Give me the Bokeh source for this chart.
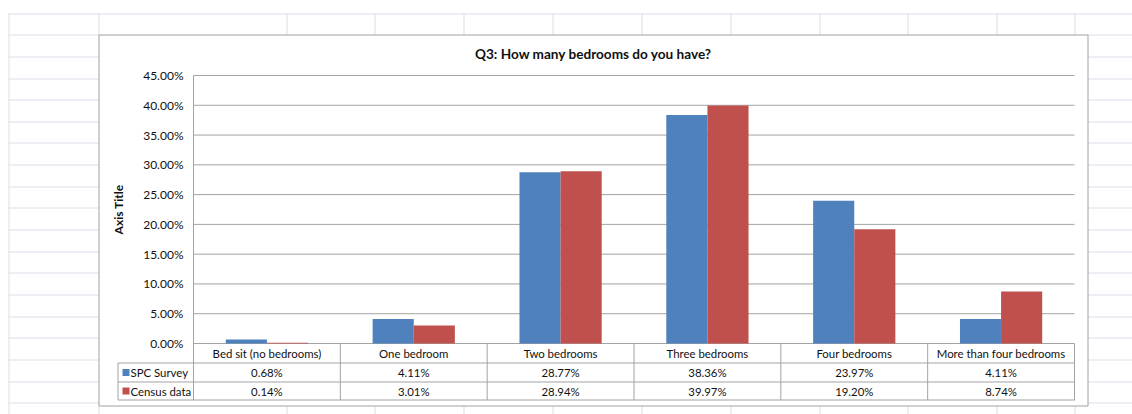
from bokeh.plotting import figure
from bokeh.models import (Range1d, FixedTicker, PrintfTickFormatter, LinearAxis)
from bokeh.core.properties import value
from bokeh.embed import file_html
from bokeh.resources import INLINE

# ---------------- data ----------------
categories = ["Bed sit (no bedrooms)", "One bedroom", "Two bedrooms",
              "Three bedrooms", "Four bedrooms", "More than four bedrooms"]
series_names = ["SPC Survey", "Census data"]
spc_survey = [0.68, 4.11, 28.77, 38.36, 23.97, 4.11]
census_data = [0.14, 3.01, 28.94, 39.97, 19.20, 8.74]
y_ticks = [0, 5, 10, 15, 20, 25, 30, 35, 40, 45]
title_text = "Q3: How many bedrooms do you have?"
y_axis_title = "Axis Title"

# ---------------- style ----------------
BLUE = "#4F81BD"
RED = "#C0504D"
GRID = "#a3a3a3"
BORDER = "#a0a0a0"
SHEET = "#dcdde8"
TEXT = "#111111"
FONT = "Lato"

W, H = 1132, 414
FL, FR, FT, FB = 193, 1074, 75, 343   # plot area edges in page pixels
YMAX = 45.0
n = len(categories)

# data ranges chosen so that the plot area lands on FL..FR x FT..FB
xu = (FR - FL) / n
yu = (FB - FT) / YMAX
x_range = Range1d(-FL / xu, n + (W - FR) / xu)
y_range = Range1d(-(H - FB) / yu, YMAX + FT / yu)

idx = [i + 0.5 for i in range(n)]
spc_txt = [f"{v:.2f}%" for v in spc_survey]
cen_txt = [f"{v:.2f}%" for v in census_data]

p = figure(width=W, height=H, output_backend="svg", toolbar_location=None,
           title=None, x_axis_location=None, y_axis_location=None,
           x_range=x_range, y_range=y_range, min_border=0)
p.outline_line_color = None
p.background_fill_color = "white"
p.border_fill_color = "white"
p.xgrid.visible = False
p.ygrid.visible = False
# page-pixel ranges for the surrounding decoration (y measured from the top)
p.extra_x_ranges = {"px": Range1d(0, W)}
p.extra_y_ranges = {"px": Range1d(H, 0)}


def seg(x0, y0, x1, y1, color, xr="px", yr="px", width=1):
    p.segment(x0=x0, y0=y0, x1=x1, y1=y1, line_color=color, line_width=width,
              x_range_name=xr, y_range_name=yr)


def txt(x, y, text, xr="default", align="center", size="11.4px", style="normal"):
    p.text(x=x, y=y, text=text, x_range_name=xr, y_range_name="px",
           text_align=align, text_baseline="middle", text_font=value(FONT),
           text_font_size=size, text_font_style=style, text_color=TEXT)


# ---------- spreadsheet grid around the chart ----------
CL, CR, CT, CB = 98.5, 1087.5, 34.5, 405.5   # chart area
sheet_cols = [8, 98, 286, 374, 463, 552, 641, 730, 819, 907, 996, 1074]
sheet_rows = [13, 34, 56, 78, 99, 121, 142, 164, 186, 207, 229, 251, 272,
              294, 316, 337, 359, 381, 402]
vx0, vy0, vx1, vy1 = [], [], [], []
for x in sheet_cols:
    x = x + 0.5
    if x < CL:
        vx0 += [x]; vx1 += [x]; vy0 += [13]; vy1 += [H]
    else:
        vx0 += [x, x]; vx1 += [x, x]; vy0 += [13, CB]; vy1 += [CT, H]
for y in sheet_rows:
    y = y + 0.5
    if y < CT:
        vx0 += [8]; vx1 += [W]; vy0 += [y]; vy1 += [y]
    else:
        vx0 += [8, CR]; vx1 += [CL, W]; vy0 += [y, y]; vy1 += [y, y]
seg(vx0, vy0, vx1, vy1, SHEET)

# ---------- chart area border ----------
seg([CL, CL, CL, CR], [CT, CB, CT, CT], [CR, CR, CL, CR], [CT, CB, CB, CB], BORDER)

# ---------- horizontal gridlines (from the tick values) ----------
p.segment(x0=0, x1=n, y0=y_ticks, y1=y_ticks, line_color=GRID, line_width=1)

# ---------- bars ----------
p.vbar(x=[i - 0.14 for i in idx], top=spc_survey, width=0.28,
       fill_color=BLUE, line_color=None)
p.vbar(x=[i + 0.14 for i in idx], top=census_data, width=0.28,
       fill_color=RED, line_color=None)

# ---------- value axis (drawn at the left edge of the plot area) ----------
ax = LinearAxis(fixed_location=0, bounds=(0, YMAX))
p.add_layout(ax, "left")
ax.ticker = FixedTicker(ticks=y_ticks)
ax.formatter = PrintfTickFormatter(format="%.2f%%")
ax.axis_line_color = GRID
ax.major_tick_line_color = None
ax.minor_tick_line_color = None
ax.major_tick_out = 0
ax.major_tick_in = 0
ax.major_label_standoff = 10
ax.major_label_text_font = FONT
ax.major_label_text_font_size = "12px"
ax.major_label_text_color = TEXT
ax.axis_label = y_axis_title
ax.axis_label_text_font = FONT
ax.axis_label_text_font_size = "12px"
ax.axis_label_text_font_style = "bold"
ax.axis_label_text_color = TEXT
ax.axis_label_standoff = 14

# ---------- title ----------
txt([(CL + CR) / 2], [53], [title_text], xr="px", size="13.6px", style="bold")

# ---------- data table ----------
R0, R1, R2, R3 = FB, 362.5, 381.5, 399.5
TL = 117.5
# row separators
seg([TL] * 3, [R1, R2, R3], [FR + 0.5] * 3, [R1, R2, R3], GRID)
# legend column left edge
seg([TL], [R1], [TL], [R3], GRID)
# column separators on the category boundaries
bounds = list(range(n + 1))
seg(bounds, [R0] * (n + 1), bounds, [R3] * (n + 1), GRID, xr="default")

rows_mid = [(R0 + R1) / 2, (R1 + R2) / 2, (R2 + R3) / 2]
txt(idx, [rows_mid[0]] * n, categories)
txt(idx, [rows_mid[1]] * n, spc_txt)
txt(idx, [rows_mid[2]] * n, cen_txt)

# legend keys
for name, color, mid in zip(series_names, [BLUE, RED], rows_mid[1:]):
    p.rect(x=[125.5], y=[mid], width=7, height=7, fill_color=color,
           line_color=None, x_range_name="px", y_range_name="px")
    txt([130], [mid], [name], xr="px", align="left")

open("out.html", "w").write(file_html(p, INLINE))
